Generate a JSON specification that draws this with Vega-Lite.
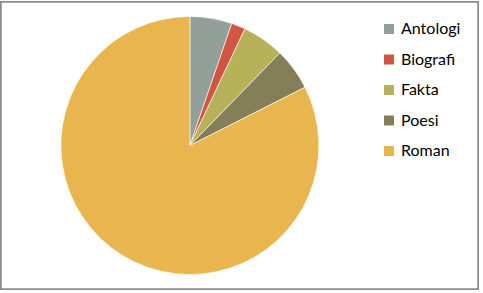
{
  "$schema": "https://vega.github.io/schema/vega-lite/v6.json",
  "autosize": "none",
  "width": 477,
  "height": 287,
  "padding": {"left": 1, "top": 2, "right": 5, "bottom": 4},
  "background": "white",
  "view": {"stroke": "#8c8c8c", "strokeWidth": 1.5},
  "config": {"font": "Lato"},
  "data": {
    "values": [
      {"genre": "Antologi", "antall": 3},
      {"genre": "Biografi", "antall": 1},
      {"genre": "Fakta", "antall": 3},
      {"genre": "Poesi", "antall": 3},
      {"genre": "Roman", "antall": 47}
    ]
  },
  "layer": [
    {
      "mark": {"type": "rect", "fill": "white", "stroke": "#8c8c8c", "strokeWidth": 1.5},
      "encoding": {}
    },
    {
      "mark": {
        "type": "arc",
        "radius": 129,
        "x": {"expr": "width * 0.396"},
        "y": {"expr": "height * 0.5"},
        "stroke": "white",
        "strokeWidth": 0.6
      },
      "encoding": {
        "theta": {"field": "antall", "type": "quantitative", "stack": true},
        "order": {"field": "genre", "type": "nominal"},
        "color": {
          "field": "genre",
          "type": "nominal",
          "scale": {
            "domain": ["Antologi", "Biografi", "Fakta", "Poesi", "Roman"],
            "range": ["#93a099", "#d05641", "#b7b159", "#847e59", "#e8b54e"]
          },
          "legend": {
            "title": null,
            "orient": "none",
            "legendX": 380,
            "legendY": 19,
            "padding": 0,
            "symbolType": "square",
            "symbolSize": 100,
            "symbolStrokeWidth": 0,
            "labelFont": "Lato",
            "labelFontSize": 16,
            "labelColor": "#000000",
            "labelOffset": 4,
            "rowPadding": 14.5
          }
        }
      }
    }
  ]
}
